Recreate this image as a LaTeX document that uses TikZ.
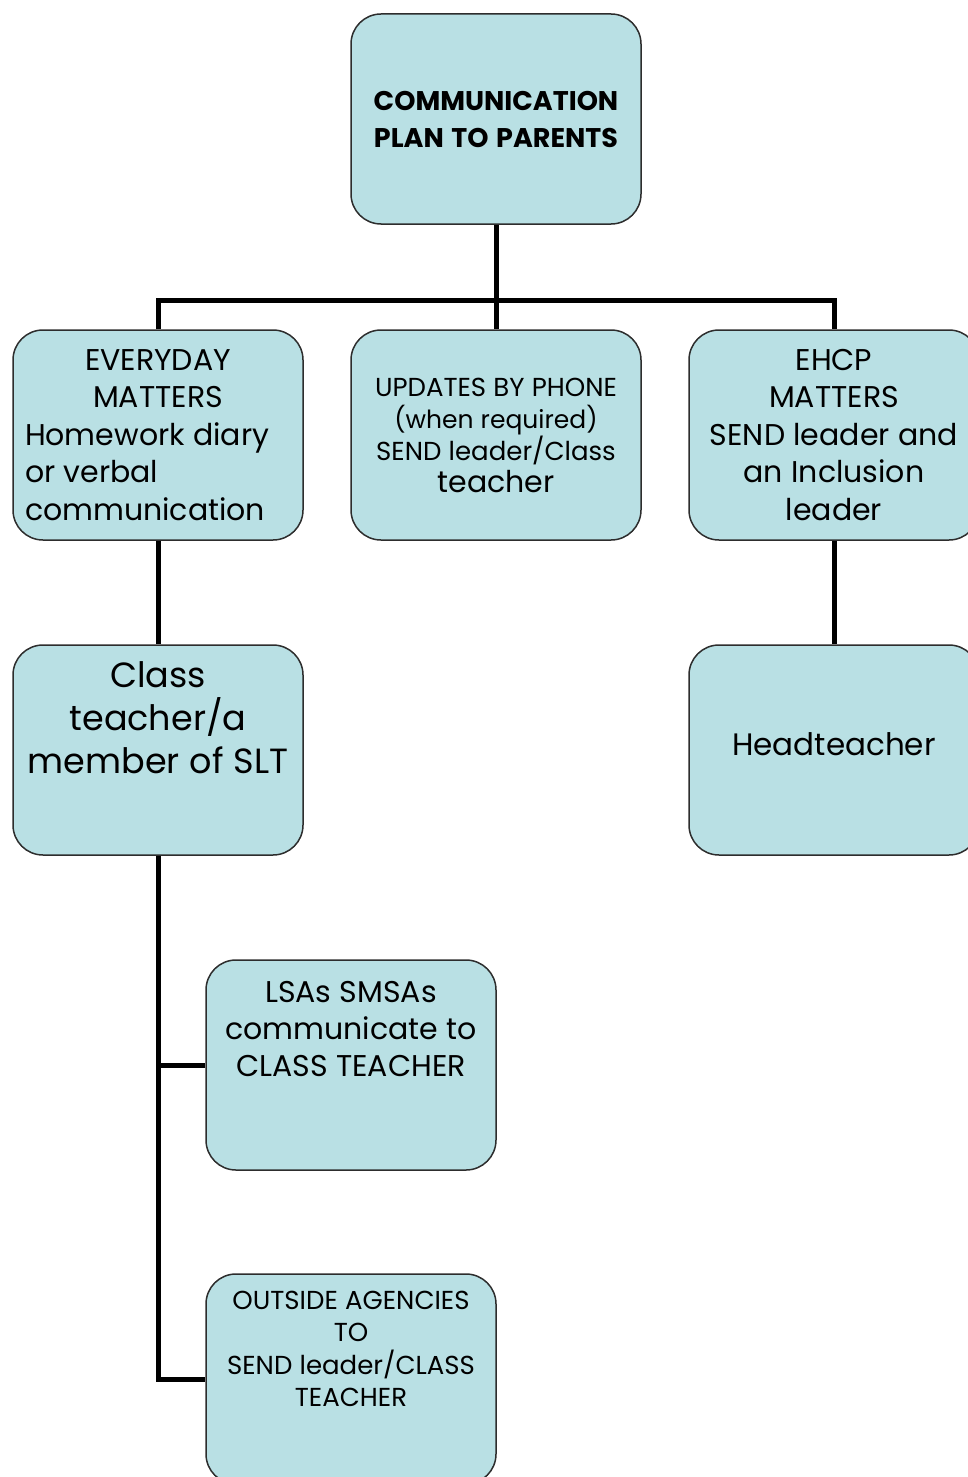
\documentclass[tikz,border=0pt]{standalone}
\usepackage{fontspec}
\setmainfont{Poppins}
\usepackage{tikz}
\usetikzlibrary{positioning}
\definecolor{planfill}{RGB}{185,224,228}
\definecolor{planline}{RGB}{45,45,45}
\tikzset{
  plan/.style={draw=planline, line width=1.5pt, fill=planfill, rounded corners=30pt,
    minimum width=290pt, minimum height=210pt, inner sep=3pt, align=center, text width=280pt},
  link/.style={line width=5pt, black}
}
% font size, line distance and a wider word space
\newcommand\planfont[2]{\fontsize{#1}{#2}\selectfont\spaceskip=0.28em\relax}
% lifts the text of a box by half of #1
\newcommand\lift[1]{\par\vspace*{#1}\nointerlineskip\hbox{}}

\begin{document}
\begin{tikzpicture}[x=1pt, y=-1pt]

  \clip (0,0) rectangle (968,1477);

  % top of the plan
  \node[plan] (top) at (496,119) {\planfont{27}{37}\bfseries COMMUNICATION\\PLAN TO PARENTS\par};

  % second row
  \node[plan, align=left, text width=266pt] (everyday) at (158,435)
    {\planfont{30}{37.5}{\centering EVERYDAY\\ MATTERS\par}Homework diary\\ or verbal\\ communication\par};
  \node[plan] (phone) at (496,435)
    {\planfont{26}{32}UPDATES BY PHONE\\ {\planfont{25}{31}(when required)}\\ SEND leader/Class\\ {\planfont{30}{37}teacher}\par};
  \node[plan] (ehcp) at (834,435)
    {\planfont{30}{37.5}EHCP\\ MATTERS\\ SEND leader and\\ an Inclusion\\ leader\par};

  % third row
  \node[plan] (classt) at (158,750)
    {\planfont{35}{43}Class\\ teacher/a\\ member of SLT\lift{64pt}};
  \node[plan] (head) at (834,750) {\planfont{31}{37}Headteacher\lift{12pt}};

  % reporting upwards
  \node[plan] (lsa) at (351,1065)
    {\planfont{30}{37}LSAs SMSAs\\ communicate to\\ CLASS TEACHER\lift{72pt}};
  \node[plan] (outside) at (351,1379)
    {\planfont{26}{32.5}OUTSIDE AGENCIES\\ TO\\ SEND leader/CLASS\\ TEACHER\lift{60pt}};

  % connectors
  \coordinate (bus) at (496,300);
  \draw[link] (top.south) -- (phone.north);
  \draw[link] (everyday.north) |- (bus) -| (ehcp.north);
  \draw[link] (everyday.south) -- (classt.north);
  \draw[link] (ehcp.south) -- (head.north);
  \draw[link] (classt.south) |- (outside.west);
  \draw[link] (lsa.west) -| (classt.south);

\end{tikzpicture}
\end{document}
